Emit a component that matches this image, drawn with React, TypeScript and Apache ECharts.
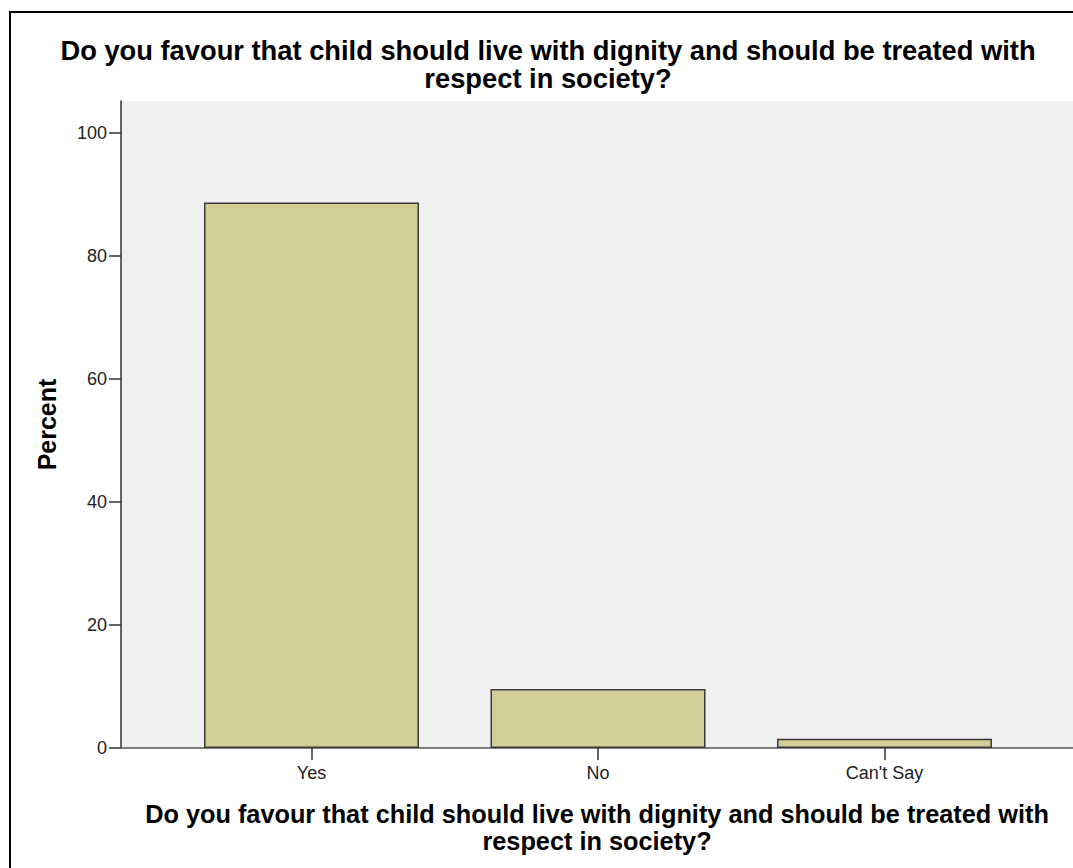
import React, { useEffect, useRef } from "react";
import * as echarts from "echarts";

const categories = ["Yes", "No", "Can't Say"];
const percentValues = [88.7, 9.6, 1.5];
const yTickValues = [0, 20, 40, 60, 80, 100];
const categoryPositions = [1, 2, 3];
const titleText =
  "Do you favour that child should live with dignity and should be treated with\nrespect in society?";
const yAxisTitle = "Percent";

const FONT = "'Liberation Sans', Arial, sans-serif";

export default function App() {
  const ref = useRef<HTMLDivElement>(null);

  useEffect(() => {
    document.body.style.margin = "0";
    const chart = echarts.init(ref.current!, null, { renderer: "svg" });
    const data = categoryPositions.map((p, i) => [p, percentValues[i]]);
    chart.setOption({
      animation: false,
      backgroundColor: "#ffffff",
      title: {
        text: titleText,
        left: 548,
        top: 36,
        padding: 0,
        textAlign: "center",
        textStyle: {
          fontFamily: FONT,
          fontSize: 27.3,
          fontWeight: "bold",
          color: "#000",
          lineHeight: 28,
        },
      },
      graphic: [
        {
          type: "rect",
          shape: { x: 10, y: 12, width: 1100, height: 900 },
          style: { fill: "none", stroke: "#000", lineWidth: 2 },
          silent: true,
          z: 100,
        },
      ],
      grid: {
        left: 121,
        right: 0,
        top: 101,
        bottom: 120,
        show: true,
        backgroundColor: "#f0f0f0",
        borderWidth: 0,
      },
      xAxis: [
        {
          type: "value",
          min: 0.335,
          max: 3.658,
          position: "bottom",
          splitLine: { show: false },
          axisLine: { show: true, onZero: false, lineStyle: { color: "#333", width: 1.5 } },
          axisTick: {
            show: true,
            length: 12,
            customValues: categoryPositions,
            lineStyle: { color: "#333", width: 1.5 },
          },
          axisLabel: {
            customValues: categoryPositions,
            margin: 16,
            fontFamily: FONT,
            fontSize: 18,
            color: "#222",
            formatter: (v: number) => categories[Math.round(v) - 1] ?? "",
          },
          name: titleText,
          nameLocation: "middle",
          nameGap: 52,
          nameTextStyle: {
            fontFamily: FONT,
            fontSize: 25.3,
            fontWeight: "bold",
            color: "#000",
            lineHeight: 27,
            verticalAlign: "top",
          },
        },
        {
          type: "value",
          min: 0.335,
          max: 3.658,
          position: "top",
          splitLine: { show: false },
          axisLine: { show: true, lineStyle: { color: "#888", width: 1.5 } },
          axisTick: { show: false },
          axisLabel: { show: false },
        },
      ],
      yAxis: {
        type: "value",
        min: 0,
        max: 105.2,
        splitLine: { show: false },
        axisLine: { show: true, lineStyle: { color: "#333", width: 1.5 } },
        axisTick: {
          show: true,
          length: 12,
          customValues: yTickValues,
          lineStyle: { color: "#333", width: 1.5 },
        },
        axisLabel: {
          customValues: yTickValues,
          margin: 14,
          fontFamily: FONT,
          fontSize: 18,
          color: "#222",
        },
        name: yAxisTitle,
        nameLocation: "middle",
        nameGap: 62,
        nameTextStyle: {
          fontFamily: FONT,
          fontSize: 25,
          fontWeight: "bold",
          color: "#000",
        },
      },
      series: [
        {
          type: "bar",
          xAxisIndex: 0,
          yAxisIndex: 0,
          data,
          barWidth: 215,
          itemStyle: {
            color: "#d3ce98",
            borderColor: "#3a3a3a",
            borderWidth: 1.5,
          },
        },
      ],
    });
    return () => chart.dispose();
  }, []);

  return (
    <div
      ref={ref}
      style={{ position: "absolute", left: 0, top: 0, width: 1073, height: 868 }}
    />
  );
}
